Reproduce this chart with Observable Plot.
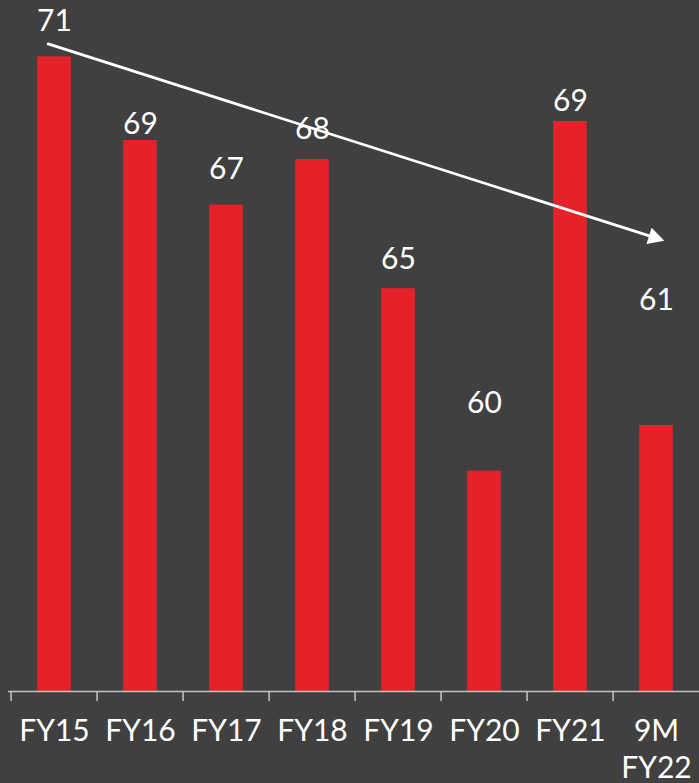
<!DOCTYPE html>
<html>
<head>
<meta charset="utf-8">
<script src="https://cdn.jsdelivr.net/npm/d3@7"></script>
<script src="https://cdn.jsdelivr.net/npm/@observablehq/plot@0.6"></script>
<style>
html, body { margin: 0; padding: 0; background: #404040; }
#chart svg { display: block; }
</style>
</head>
<body>
<div id="chart"></div>
<script>
// ---- data ----
const categories = ["FY15", "FY16", "FY17", "FY18", "FY19", "FY20", "FY21", "9M FY22"];
const values = [71.0, 68.8, 67.1, 68.3, 64.9, 60.1, 69.3, 61.3];
// level (in value units) at which each value label sits
const labelAt = [71.93, 69.22, 68.04, 69.08, 65.67, 61.87, 69.83, 64.59];
// trend arrow end points (value units)
const trendFrom = ["FY15", 71.29];
const trendTo = ["9M FY22", 66.23];
const yFloor = 54.3, yCeil = 72.3;

const rows = categories.map((c, i) => ({
  cat: c,
  value: values[i],
  labelY: labelAt[i],
  label: String(Math.round(values[i]))
}));
const trend = [{x1: trendFrom[0], y1: trendFrom[1], x2: trendTo[0], y2: trendTo[1]}];

const headSymbol = {
  draw(context) {
    context.moveTo(0, 0);
    context.lineTo(-16, -8.5);
    context.lineTo(-16, 8.5);
    context.closePath();
  }
};

const chart = Plot.plot({
  width: 699,
  height: 783,
  marginLeft: 8,
  marginRight: 0,
  marginTop: 0,
  marginBottom: 92,
  style: { background: "#404040", color: "white", fontFamily: "Lato, 'Open Sans', sans-serif" },
  x: { domain: categories, range: [8, 702.4], padding: 0, label: null },
  y: { domain: [yFloor, yCeil], range: [691, 7], axis: null },
  marks: [
    Plot.barY(rows, { x: "cat", y1: yFloor, y2: "value", fill: "#E52229", insetLeft: 26.2, insetRight: 26.2 }),
    Plot.ruleY([yFloor], { stroke: "#C0C0C0", strokeWidth: 1.6 }),
    Plot.ruleX(categories, { x: d => d, dx: -43.4, y1: yFloor, y2: yFloor - 10 / 38, stroke: "#C0C0C0", strokeWidth: 1.6 }),
    Plot.axisX({
      tickSize: 0, tickPadding: 23, fontSize: 30, lineHeight: 1.23, fill: "white",
      tickFormat: d => d.replace(" ", "\n")
    }),
    Plot.text(rows, { x: "cat", y: "labelY", text: "label", fill: "white", fontSize: 30 }),
    Plot.arrow(trend, {
      x1: "x1", y1: "y1", x2: "x2", y2: "y2",
      stroke: "white", strokeWidth: 2.7, headLength: 0,
      insetStart: -6.7, insetEnd: 5.8
    }),
    Plot.dot([trendTo], {
      x: d => d[0], y: d => d[1], symbol: headSymbol, r: 8,
      fill: "white", stroke: "none", rotate: 17.55, dx: 7.8, dy: 2.5
    })
  ]
});
document.getElementById("chart").appendChild(chart);
</script>
</body>
</html>
